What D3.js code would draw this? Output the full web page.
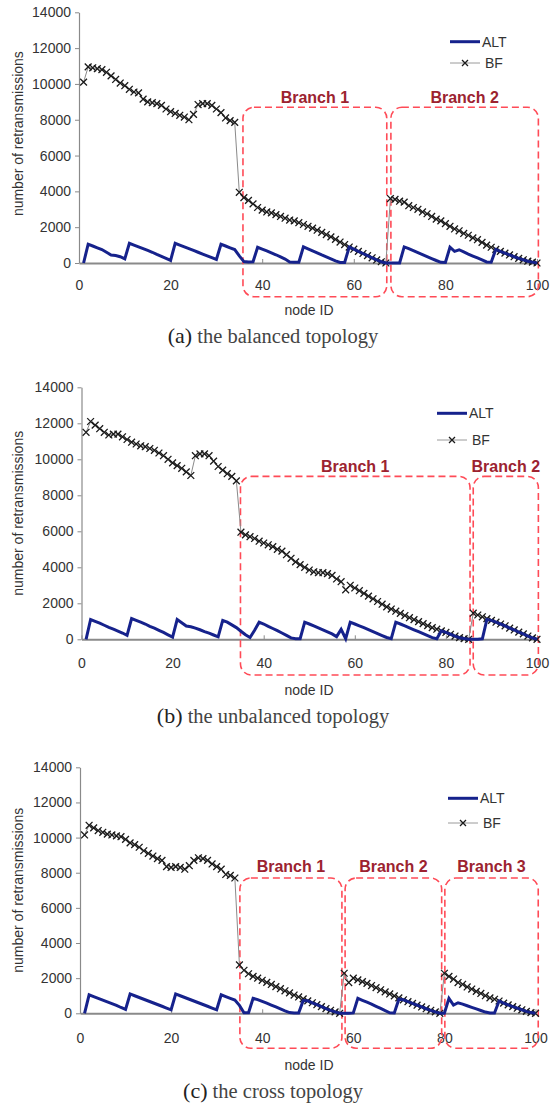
<!DOCTYPE html>
<html>
<head>
<meta charset="utf-8">
<script src="https://cdn.jsdelivr.net/npm/d3@7/dist/d3.min.js"></script>
<style>
  html, body { margin: 0; padding: 0; background: #fff; }
  svg { display: block; }
  .axis text { font-family: "Liberation Sans", Arial, sans-serif; font-size: 14px; fill: #333; }
  .axis path, .axis line { stroke: #8a8a8a; }
</style>
</head>
<body>
<svg id="chart" width="554" height="1106"></svg>
<script>
// ---------- data ----------
const nodes = d3.range(1, 101);           // node IDs 1..100
const yTicks = [0, 2000, 4000, 6000, 8000, 10000, 12000, 14000];
const xTicks = [0, 20, 40, 60, 80, 100];
const seriesNames = ["ALT", "BF"];

// (a) balanced topology
const bfA = [10100,10950,10900,10850,10800,10650,10450,10250,10050,9900,
  9700,9550,9500,9150,9000,8950,8900,8800,8600,8450,
  8350,8250,8150,8000,8300,8850,8900,8900,8800,8600,
  8400,8100,7950,7850,3950,3650,3500,3300,3100,2950,
  2850,2800,2700,2600,2500,2400,2350,2250,2150,2050,
  1950,1830,1710,1590,1460,1320,1170,1030,890,770,
  650,530,410,290,170,70,0,3600,3550,3450,
  3400,3200,3100,3000,2850,2750,2600,2450,2350,2200,
  2050,1900,1800,1650,1550,1400,1300,1150,1000,880,
  760,650,550,450,350,260,180,100,50,0];
const altA = [0,1050,950,850,750,600,450,420,350,230,
  1100,1000,900,800,700,600,480,370,260,150,
  1100,1000,900,800,700,600,500,400,300,200,
  1050,950,850,750,400,80,60,70,880,780,
  680,570,460,340,220,60,40,40,900,790,
  680,570,450,340,230,120,30,30,890,770,
  650,530,410,290,170,70,0,0,0,0,
  900,800,690,580,470,360,250,140,40,30,
  880,650,740,620,500,390,280,170,60,40,
  760,650,550,450,350,260,180,100,50,0];
const branchesA = ["Branch 1", "Branch 2"];
const branchSpansA = [[35.8, 67.2], [68.1, 100.3]];

// (b) unbalanced topology
const bfB = [11500,12100,11900,11700,11500,11350,11400,11400,11250,11100,
  10950,10850,10750,10700,10600,10500,10350,10200,10000,9800,
  9650,9500,9300,9100,10200,10300,10300,10200,9900,9600,
  9400,9200,9050,8800,5950,5800,5700,5600,5450,5350,
  5250,5150,5000,4900,4700,4500,4300,4150,4000,3850,
  3750,3700,3700,3650,3550,3350,3200,2750,3000,2850,
  2700,2550,2400,2250,2100,1950,1800,1680,1560,1440,
  1320,1200,1090,980,870,760,650,560,470,380,
  280,180,90,40,0,1450,1350,1250,1150,1050,
  950,850,750,620,520,400,300,180,80,0];
const altB = [0,1100,1000,900,780,660,560,460,350,220,
  1150,1050,950,850,720,620,500,380,250,120,
  1100,920,740,700,620,530,430,340,240,140,
  1050,950,800,650,450,250,100,500,950,850,
  720,600,480,350,220,80,30,30,950,850,
  740,630,520,410,300,150,550,30,950,850,
  750,650,540,430,320,210,100,30,950,850,
  750,640,530,420,310,200,90,30,470,380,
  280,180,90,40,0,0,0,30,1100,1050,
  950,850,750,620,520,400,300,180,80,0];
const branchesB = ["Branch 1", "Branch 2"];
const branchSpansB = [[34.9, 85.3], [86.0, 100.3]];

// (c) cross topology
const bfC = [10150,10700,10550,10400,10300,10200,10150,10100,10050,9900,
  9700,9600,9450,9250,9100,8950,8800,8700,8350,8300,
  8350,8300,8200,8400,8700,8850,8800,8700,8500,8350,
  8200,7900,7850,7700,2750,2450,2250,2100,2000,1880,
  1760,1640,1520,1400,1280,1160,1040,930,820,710,
  600,490,380,270,170,80,0,2280,1750,2000,
  1900,1800,1700,1580,1460,1340,1220,1100,990,880,
  770,660,560,460,360,260,170,80,0,2280,
  2100,1950,1750,1650,1500,1380,1250,1130,1000,880,
  800,700,580,480,380,290,200,110,40,0];
const altC = [0,1050,950,850,750,650,550,450,330,220,
  1100,1000,900,800,700,600,500,400,300,200,
  1100,1000,900,800,700,600,500,400,300,200,
  1050,950,850,750,450,30,30,850,780,680,
  580,470,360,250,140,40,20,20,720,710,
  600,490,380,270,170,80,0,0,0,20,
  850,740,630,520,400,280,150,30,20,800,
  770,660,560,460,360,260,170,80,0,0,
  850,470,600,520,430,340,250,160,70,20,
  20,700,580,480,380,290,200,110,40,0];
const branchesC = ["Branch 1", "Branch 2", "Branch 3"];
const branchSpansC = [[35.1, 57.5], [58.2, 79.4], [80.1, 100.6]];

const captionsTag = ["(a)", "(b)", "(c)"];
const captionsText = [" the balanced topology", " the unbalanced topology", " the cross topology"];

// ---------- layout ----------
const panels = [
  { bf: bfA, alt: altA, names: branchesA, spans: branchSpansA,
    xr: [79, 537], yr: [263, 12.3], boxTop: 8700, boxBot: 33.7, labelY: 102.5,
    legX: 450, legY: [41.7, 63], tickDy: 27, nodeY: 315, capY: 343 },
  { bf: bfB, alt: altB, names: branchesB, spans: branchSpansB,
    xr: [81.5, 537], yr: [639.3, 387.3], boxTop: 9050, boxBot: 35.7, labelY: 471.7,
    legX: 437, legY: [413.3, 440], tickDy: 29, nodeY: 695, capY: 723 },
  { bf: bfC, alt: altC, names: branchesC, spans: branchSpansC,
    xr: [80, 535.5], yr: [1013.3, 767.3], boxTop: 7700, boxBot: 35, labelY: 872.4,
    legX: 448, legY: [798.3, 823], tickDy: 30, nodeY: 1070, capY: 1098 }
];

const svg = d3.select("#chart");
const sans = '"Liberation Sans", Arial, sans-serif';
const serif = '"Liberation Serif", "Times New Roman", serif';
const altColor = "#16228c";
const boxColor = "#ff4b57";
const branchColor = "#9c2330";

function xMarker(g, cx, cy, s) {
  g.append("path")
    .attr("d", `M${cx - s},${cy - s}L${cx + s},${cy + s}M${cx - s},${cy + s}L${cx + s},${cy - s}`)
    .attr("stroke", "#1a1a1a").attr("stroke-width", 1.3).attr("fill", "none");
}

panels.forEach((p, i) => {
  const x = d3.scaleLinear().domain([0, 100]).range(p.xr);
  const y = d3.scaleLinear().domain([0, 14000]).range(p.yr);
  const g = svg.append("g");

  // y axis
  const ya = g.append("g").attr("class", "axis")
    .attr("transform", `translate(${p.xr[0]},0)`)
    .call(d3.axisLeft(y).tickValues(yTicks).tickFormat(d3.format("d"))
      .tickSizeInner(4).tickSizeOuter(0).tickPadding(4));
  ya.select(".domain").attr("stroke-width", 1.2);

  // x axis (ticks pointing inward)
  const xa = g.append("g").attr("class", "axis")
    .attr("transform", `translate(0,${p.yr[0]})`)
    .call(d3.axisBottom(x).tickValues(xTicks).tickSizeInner(-4).tickSizeOuter(0).tickPadding(0));
  xa.select(".domain").attr("stroke-width", 2);
  xa.selectAll(".tick text").attr("dy", null).attr("y", p.tickDy);

  // y label
  g.append("text")
    .attr("transform", `translate(${18.5},${(p.yr[0] + p.yr[1]) / 2 - (i === 0 ? 4 : 0)}) rotate(-90)`)
    .attr("text-anchor", "middle").attr("dy", "0.35em")
    .style("font-family", sans).style("font-size", "14px").style("fill", "#333")
    .text("number of retransmissions");

  // x label
  g.append("text").attr("x", 309).attr("y", p.nodeY).attr("text-anchor", "middle")
    .style("font-family", sans).style("font-size", "14px").style("fill", "#333")
    .text("node ID");

  // branch boxes
  p.spans.forEach((s, j) => {
    const x0 = x(s[0]), x1 = x(s[1]);
    const top = y(p.boxTop), bot = p.yr[0] + p.boxBot;
    g.append("rect").attr("x", x0).attr("y", top)
      .attr("width", x1 - x0).attr("height", bot - top)
      .attr("rx", 11).attr("ry", 11)
      .attr("fill", "none").attr("stroke", boxColor)
      .attr("stroke-width", 1.6).attr("stroke-dasharray", "7,4");
    g.append("text").attr("x", (x0 + x1) / 2).attr("y", p.labelY)
      .attr("text-anchor", "middle")
      .style("font-family", sans).style("font-size", "16px").style("font-weight", "bold")
      .style("fill", branchColor)
      .text(p.names[j]);
  });

  // BF line + markers
  const line = d3.line().x((d, k) => x(nodes[k])).y(d => y(d));
  g.append("path").datum(p.bf).attr("d", line)
    .attr("fill", "none").attr("stroke", "#8a8a8a").attr("stroke-width", 1);
  const mg = g.append("g");
  p.bf.forEach((v, k) => xMarker(mg, x(nodes[k]), y(v), 3.4));

  // ALT line
  g.append("path").datum(p.alt).attr("d", line)
    .attr("fill", "none").attr("stroke", altColor).attr("stroke-width", 3)
    .attr("stroke-linejoin", "miter");

  // legend
  const lx = p.legX;
  g.append("line").attr("x1", lx).attr("x2", lx + 30).attr("y1", p.legY[0]).attr("y2", p.legY[0])
    .attr("stroke", altColor).attr("stroke-width", 3);
  g.append("text").attr("x", lx + 32).attr("y", p.legY[0] + 5)
    .style("font-family", sans).style("font-size", "14px").style("fill", "#333").text(seriesNames[0]);
  g.append("line").attr("x1", lx).attr("x2", lx + 30).attr("y1", p.legY[1]).attr("y2", p.legY[1])
    .attr("stroke", "#9a9a9a").attr("stroke-width", 1);
  xMarker(g, lx + 15, p.legY[1], 3);
  g.append("text").attr("x", lx + 35).attr("y", p.legY[1] + 5)
    .style("font-family", sans).style("font-size", "14px").style("fill", "#333").text(seriesNames[1]);

  // caption
  const cap = g.append("text").attr("x", 273).attr("y", p.capY).attr("text-anchor", "middle")
    .style("font-family", serif);
  cap.append("tspan").style("font-size", "22px").style("fill", "#222").text(captionsTag[i]);
  cap.append("tspan").style("font-size", "20.5px").style("fill", "#444").text(captionsText[i]);
});
</script>
</body>
</html>
